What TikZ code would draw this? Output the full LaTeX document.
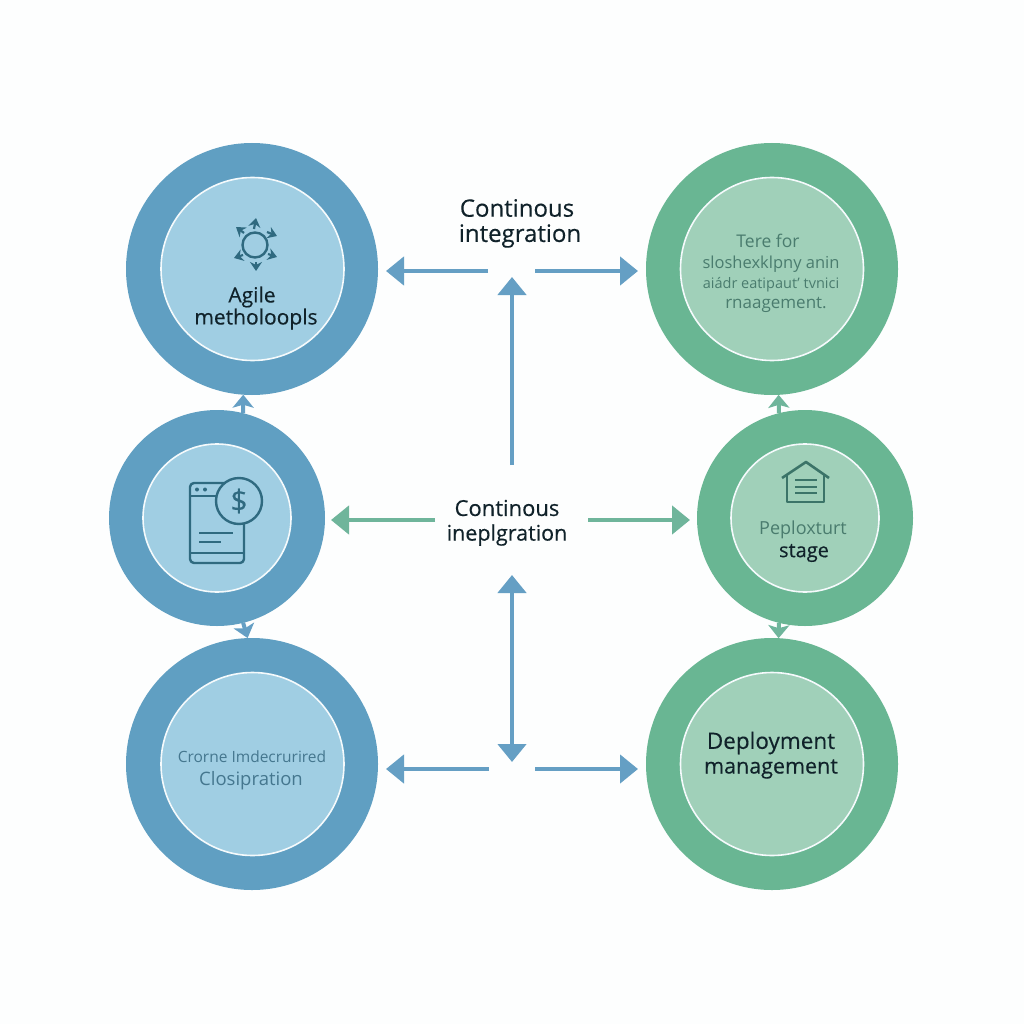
\documentclass[tikz,border=0pt]{standalone}
\usepackage{fontspec}
\setmainfont{Open Sans}
\newfontfamily\medfont[FakeBold=0.35]{Open Sans}
\usetikzlibrary{arrows.meta,calc}
\definecolor{blueout}{HTML}{609FC2}
\definecolor{bluein}{HTML}{A0CEE3}
\definecolor{greenout}{HTML}{69B693}
\definecolor{greenin}{HTML}{A0D0B9}
\definecolor{arrowblue}{HTML}{659FC4}
\definecolor{arrowgreen}{HTML}{6FB59B}
\definecolor{inkdark}{HTML}{10222A}
\definecolor{inkblue}{HTML}{45778F}
\definecolor{inkgreen}{HTML}{4A7C6E}
\definecolor{iconblue}{HTML}{2F6A80}
\definecolor{icongreen}{HTML}{3B7468}
\definecolor{paper}{HTML}{FDFEFE}
\newcommand{\fsz}[1]{\fontsize{#1}{#1}\selectfont}
\tikzset{
  x=1pt,y=-1pt,
  disc/.style={circle,inner sep=0pt,outer sep=0pt,minimum size=#1},
  ringline/.style={draw=white!90!bluein,line width=1.6pt},
  bigblue/.style={disc=252pt,fill=blueout},
  midblue/.style={disc=216pt,fill=blueout},
  biggreen/.style={disc=252pt,fill=greenout},
  midgreen/.style={disc=216pt,fill=greenout},
  inbigblue/.style={disc=183pt,fill=bluein,ringline},
  inmidblue/.style={disc=148pt,fill=bluein,ringline},
  inbiggreen/.style={disc=183pt,fill=greenin,ringline},
  inmidgreen/.style={disc=148pt,fill=greenin,ringline},
  flow/.style={line width=4.6pt,-{Triangle[length=18pt,width=28pt]}},
  flowb/.style={flow,color=arrowblue},
  flowg/.style={flow,color=arrowgreen},
  dblb/.style={line width=4.6pt,{Triangle[length=18pt,width=28pt]}-{Triangle[length=18pt,width=28pt]},color=arrowblue},
  linkb/.style={line width=4pt,-{Stealth[length=13pt,width=21pt,inset=3pt]},color=arrowblue},
  linkg/.style={line width=4pt,-{Stealth[length=13pt,width=21pt,inset=3pt]},color=arrowgreen},
  lab/.style={inner sep=0pt,text=inkdark,font=\medfont\fsz{24}},
  labb/.style={inner sep=0pt,text=inkblue},
  labg/.style={inner sep=0pt,text=inkgreen,font=\fsz{16.5}},
  iconb/.style={draw=iconblue,line width=2.4pt,line join=round},
  icong/.style={draw=icongreen,line width=2.6pt,line join=round},
  spin/.style={draw=iconblue,line width=2.2pt,-{Stealth[length=9pt,width=12pt,inset=3pt]}},
}
\begin{document}
\begin{tikzpicture}
\useasboundingbox (0,0) rectangle (1024,1024);
\fill[paper] (0,0) rectangle (1024,1024);
% rings
\node[bigblue] (tl) at (252,269) {};
\node[midblue] (ml) at (217,518) {};
\node[bigblue] (bl) at (252,764) {};
\node[biggreen] (tr) at (772,269) {};
\node[midgreen] (mr) at (805,518) {};
\node[biggreen] (br) at (772,764) {};
\node[inbigblue] (tli) at (252.5,269) {};
\node[inmidblue] (mli) at (217,518) {};
\node[inbigblue] (bli) at (252.5,764) {};
\node[inbiggreen] (tri) at (772,269) {};
\node[inmidgreen] (mri) at (805,518) {};
\node[inbiggreen] (bri) at (772,764) {};
% links between rings
\draw[linkb] (ml.76) -- (tl.-94);
\draw[linkb] (ml.-76) -- (bl.92);
\draw[linkg] (mr.104) -- (tr.-87);
\draw[linkg] (mr.-104) -- (br.87);
% free ends of the central arrows
\coordinate (a1) at (488,271); \coordinate (a1t) at (386,271);
\coordinate (a2) at (535,271); \coordinate (a2t) at (638,271);
\coordinate (a3) at (512,465); \coordinate (a3t) at (512,277);
\coordinate (a4) at (435,520); \coordinate (a4t) at (331,520);
\coordinate (a5) at (588,520); \coordinate (a5t) at (690,520);
\coordinate (a6) at (512,575); \coordinate (a6t) at (512,762);
\coordinate (a7) at (489,769); \coordinate (a7t) at (386,769);
\coordinate (a8) at (535,769); \coordinate (a8t) at (638,769);
\draw[flowb] (a1) -- (a1t);
\draw[flowb] (a2) -- (a2t);
\draw[flowb] (a3) -- (a3t);
\draw[flowg] (a4) -- (a4t);
\draw[flowg] (a5) -- (a5t);
\draw[dblb] (a6) -- (a6t);
\draw[flowb] (a7) -- (a7t);
\draw[flowb] (a8) -- (a8t);
% central labels
\node[lab,font=\medfont\fsz{24}] (c1a) at (517,208) {Continous};
\node[lab,font=\medfont\fsz{24}] (c1b) at (520,236) {integration};
\node[lab,font=\medfont\fsz{22}] (c2a) at (507,508) {Continous};
\node[lab,font=\medfont\fsz{21.5}] (c2b) at (507,535) {ineplgration};
% circle labels
\node[lab,font=\medfont\fsz{21}] (t1) at (252,297) {Agile};
\node[lab,font=\medfont\fsz{21}] (t2) at (256,319) {metholoopls};
\node[labg,font=\fsz{17.5}] (t3) at (768,241) {Tere for};
\node[labg] (t4) at (771,264) {sloshexklpny anin};
\node[labg,font=\fsz{14.5}] (t5) at (771,285) {aiádr eatipaut' tvnici};
\node[labg,font=\fsz{17}] (t6) at (776,305) {rnaagement.};
\node[labg,font=\fsz{18}] (t7) at (803,530) {Peploxturt};
\node[lab,font=\medfont\fsz{20}] (t8) at (804,553) {stage};
\node[labb,font=\fsz{15.5}] (t9) at (252,757) {Crorne Imdecrurired};
\node[labb,font=\fsz{18.5}] (t10) at (251,781) {Closipration};
\node[lab,font=\medfont\fsz{22.5}] (t11) at (771,743) {Deployment};
\node[lab,font=\medfont\fsz{21.5}] (t12) at (771,769) {management};
% agile icon
\draw[iconb] (255,245) circle (12.5);
\draw[spin] (254,229) -- (256,218);
\draw[spin] (244,233) -- (236,227);
\draw[spin] (267,232) -- (277,236);
\draw[spin] (268,254) -- (277,257);
\draw[spin] (243,255) -- (234,258);
\draw[spin] (256,262) -- (256,271);
% phone icon
\draw[iconb,rounded corners=4pt] (190,483) rectangle (244,563);
\draw[iconb] (190,496) -- (244,496);
\draw[iconb] (190,553) -- (244,553);
\fill[iconblue] (197,489.5) circle (2) (205,489.5) circle (2);
\draw[iconb] (199,533) -- (233,533);
\draw[iconb] (199,542) -- (221,542);
\node[circle,inner sep=0pt,minimum size=46pt,fill=bluein,iconb] (coin) at (239,501) {};
\node[inner sep=0pt,text=iconblue,font=\medfont\fsz{30}] (dollar) at (coin) {\$};
% house icon
\draw[icong] (782,478) -- (806,462) -- (829,478);
\draw[icong] (787,474) -- (787,502) -- (824,502) -- (824,474);
\draw[icong] (795,480) -- (817,480);
\draw[icong] (795,487) -- (817,487);
\draw[icong] (795,493) -- (817,493);
\end{tikzpicture}
\end{document}
